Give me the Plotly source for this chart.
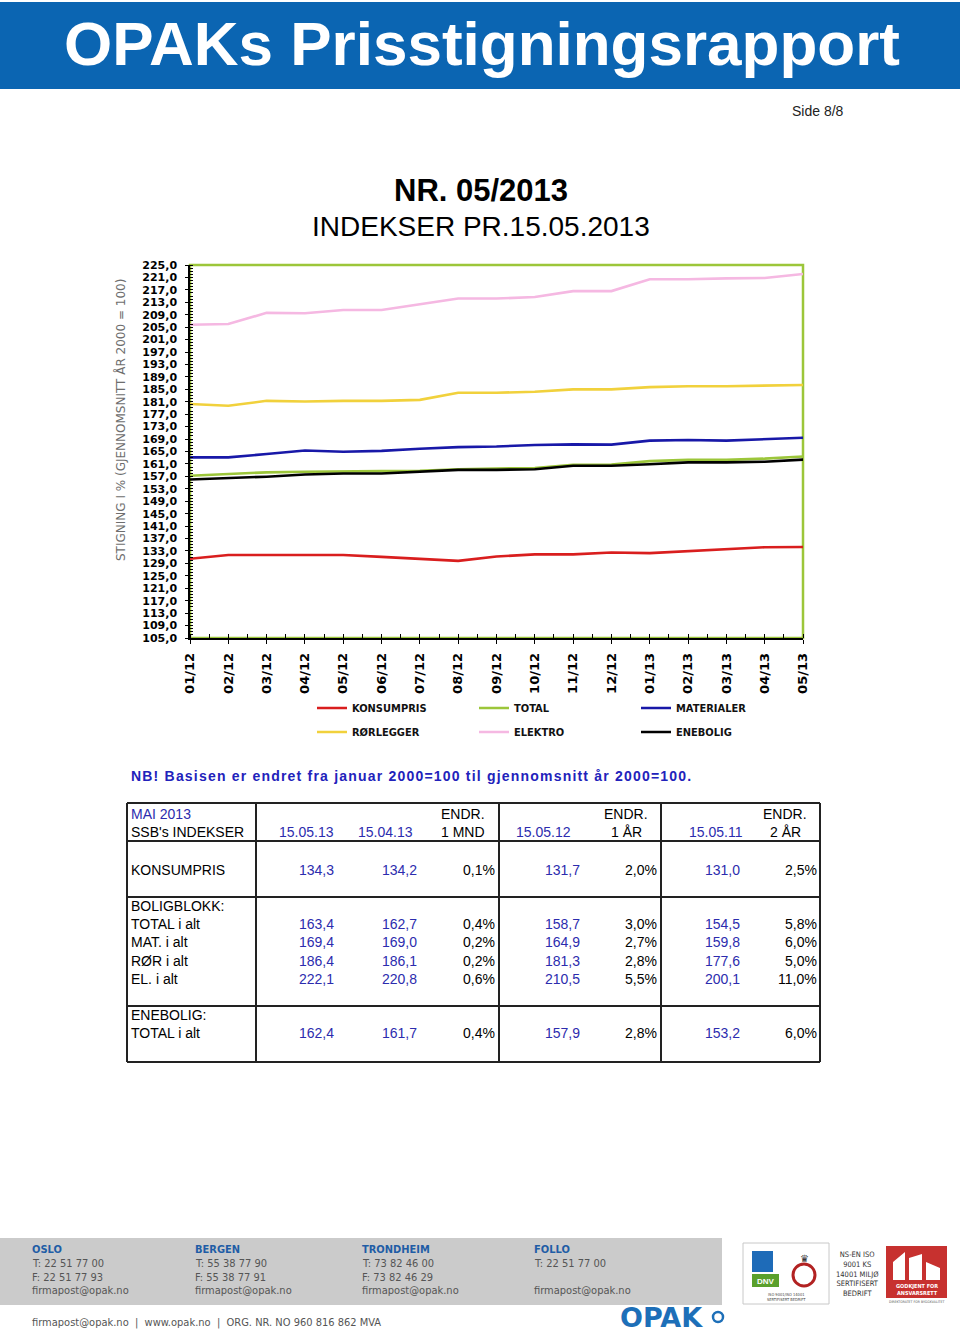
import plotly.graph_objects as go

W, H = 960, 1333

# ---------------- data ----------------
months = ["01/12", "02/12", "03/12", "04/12", "05/12", "06/12", "07/12", "08/12", "09/12",
          "10/12", "11/12", "12/12", "01/13", "02/13", "03/13", "04/13", "05/13"]
konsumpris = [130.5, 131.7, 131.7, 131.7, 131.7, 131.1, 130.5, 129.8, 131.2, 131.9, 131.9,
              132.5, 132.3, 133.0, 133.7, 134.2, 134.3]
total = [157.2, 157.8, 158.3, 158.5, 158.7, 158.7, 158.8, 159.3, 159.5, 159.7, 160.7,
         160.8, 161.9, 162.3, 162.3, 162.7, 163.4]
materialer = [163.1, 163.1, 164.2, 165.3, 164.9, 165.2, 165.9, 166.4, 166.6, 167.1, 167.3,
              167.2, 168.5, 168.7, 168.5, 169.0, 169.4]
rorlegger = [180.3, 179.7, 181.3, 181.1, 181.3, 181.3, 181.6, 183.9, 183.9, 184.2, 185.0,
             185.0, 185.7, 186.0, 186.0, 186.1, 186.4]
elektro = [205.8, 206.0, 209.6, 209.5, 210.5, 210.5, 212.4, 214.2, 214.2, 214.7, 216.6,
           216.6, 220.4, 220.4, 220.7, 220.8, 222.1]
enebolig = [156.0, 156.4, 156.9, 157.6, 157.9, 157.9, 158.5, 159.1, 159.1, 159.3, 160.4,
            160.4, 160.9, 161.5, 161.5, 161.7, 162.4]

series_names = ["KONSUMPRIS", "TOTAL", "MATERIALER", "RØRLEGGER", "ELEKTRO", "ENEBOLIG"]
series_values = [konsumpris, total, materialer, rorlegger, elektro, enebolig]
series_colors = ["#d91e1e", "#9cc63a", "#1818a8", "#f1d13c", "#f5b8e2", "#000000"]

# table data
tbl_row_labels = ["KONSUMPRIS", "TOTAL i alt", "MAT. i alt", "RØR i alt", "EL. i alt", "TOTAL i alt"]
val_150513 = [134.3, 163.4, 169.4, 186.4, 222.1, 162.4]
val_150413 = [134.2, 162.7, 169.0, 186.1, 220.8, 161.7]
chg_1mnd = [0.1, 0.4, 0.2, 0.2, 0.6, 0.4]
val_150512 = [131.7, 158.7, 164.9, 181.3, 210.5, 157.9]
chg_1ar = [2.0, 3.0, 2.7, 2.8, 5.5, 2.8]
val_150511 = [131.0, 154.5, 159.8, 177.6, 200.1, 153.2]
chg_2ar = [2.5, 5.8, 6.0, 5.0, 11.0, 6.0]
hdr_dates = ["15.05.13", "15.04.13", "15.05.12", "15.05.11"]
hdr_changes = ["1 MND", "1 ÅR", "2 ÅR"]

# footer data
offices = ["OSLO", "BERGEN", "TRONDHEIM", "FOLLO"]
office_phone = ["T: 22 51 77 00", "T: 55 38 77 90", "T: 73 82 46 00", "T: 22 51 77 00"]
office_fax = ["F: 22 51 77 93", "F: 55 38 77 91", "F: 73 82 46 29", ""]
office_mail = ["firmapost@opak.no"] * 4


# ---------------- helpers ----------------
def px(x):
    return x / W


def py(y):
    return 1 - y / H


def fmt(v, dec=1):
    return f"{v:.{dec}f}".replace(".", ",")


NARROW = "Liberation Sans Narrow, DejaVu Sans Condensed, Arial Narrow, sans-serif"
SANS = "Liberation Sans, Arial, sans-serif"
BLUE_TXT = "#2c2cae"

fig = go.Figure()

for k, (name, vals, col) in enumerate(zip(series_names, series_values, series_colors)):
    fig.add_trace(go.Scatter(
        x=list(range(len(months))), y=vals, name=name, mode="lines",
        line=dict(color=col, width=2.6),
        legend="legend" if k < 3 else "legend2",
    ))

annotations = []
shapes = []


def text(x, y, s, size=14, color="#000", bold=False, xanchor="left", family=SANS,
         yanchor="middle", angle=0):
    annotations.append(dict(
        x=px(x), y=py(y), xref="paper", yref="paper", text=s, showarrow=False,
        xanchor=xanchor, yanchor=yanchor, borderpad=0, textangle=angle,
        font=dict(family=family, size=size, color=color, weight="bold" if bold else "normal"),
    ))


def rect(x0, y0, x1, y1, fill=None, line=None, lw=0, layer="below"):
    shapes.append(dict(
        type="rect", xref="paper", yref="paper", x0=px(x0), x1=px(x1), y0=py(y1), y1=py(y0),
        fillcolor=fill if fill else "rgba(0,0,0,0)",
        line=dict(color=line if line else "rgba(0,0,0,0)", width=lw), layer=layer,
    ))


def hline(x0, x1, y, color="#222", lw=2):
    shapes.append(dict(type="line", xref="paper", yref="paper", x0=px(x0), x1=px(x1),
                       y0=py(y), y1=py(y), line=dict(color=color, width=lw)))


def vline(x, y0, y1, color="#222", lw=2):
    shapes.append(dict(type="line", xref="paper", yref="paper", x0=px(x), x1=px(x),
                       y0=py(y0), y1=py(y1), line=dict(color=color, width=lw)))


# ---------------- header ----------------
rect(0, 2, 960, 89, fill="#0b65b2")
text(482, 44, "OPAKs Prisstigningsrapport", size=62, color="#ffffff", bold=True, xanchor="center")
text(845, 111, "Side 8/8", size=14, color="#222", xanchor="right")
text(481, 209, "NR. 05/2013", size=31, color="#000", bold=True, xanchor="center", yanchor="bottom")
text(481, 210, "INDEKSER PR.15.05.2013", size=28, color="#000", xanchor="center", yanchor="top")

# y-axis title (placed like the reference, off-centre)
text(120, 420, "STIGNING I % (GJENNOMSNITT ÅR 2000 = 100)", size=12, color="#6e6e6e",
     xanchor="center", family="DejaVu Sans, sans-serif", angle=-90)

# plot frame (green)
rect(190, 265, 803, 638, line="#9cc63a", lw=2.5)

# ---------------- NB text + table ----------------
text(130, 776, "<span style='letter-spacing:1.2px'>NB! Basisen er endret fra januar "
     "2000=100 til gjennomsnitt år 2000=100.</span>",
     size=14, color="#2222bb", bold=True)

tx_left, tx_right = 127, 820
for yy in [803, 841, 897, 1006, 1062]:
    hline(tx_left, tx_right, yy)
for xx in [127, 256, 499, 661, 820]:
    vline(xx, 803, 1062)

text(130, 814, "MAI 2013", size=14, color=BLUE_TXT)
text(130, 832, "SSB's INDEKSER", size=14)
for d, xr in zip(hdr_dates, [335, 414, 572, 744]):
    text(xr, 832, d, size=14, color=BLUE_TXT, xanchor="right")
for c, xc in zip(hdr_changes, [463, 626, 785]):
    text(xc, 814, "ENDR.", size=14, xanchor="center")
    text(xc, 832, c, size=14, xanchor="center")

row_y = [870, 924, 942, 961, 979, 1033]
text(130, 906, "BOLIGBLOKK:", size=14)
text(130, 1015, "ENEBOLIG:", size=14)
col_right = [335, 418, 496, 581, 658, 741, 818]
for i, yy in enumerate(row_y):
    text(130, yy, tbl_row_labels[i], size=14)
    cells = [(fmt(val_150513[i]), BLUE_TXT), (fmt(val_150413[i]), BLUE_TXT),
             (fmt(chg_1mnd[i]) + "%", "#000"), (fmt(val_150512[i]), BLUE_TXT),
             (fmt(chg_1ar[i]) + "%", "#000"), (fmt(val_150511[i]), BLUE_TXT),
             (fmt(chg_2ar[i]) + "%", "#000")]
    for (s, col), xr in zip(cells, col_right):
        text(xr, yy, s, size=14, color=col, xanchor="right")

# ---------------- footer ----------------
rect(0, 1238, 722, 1305, fill="#cbcbcb")
for i, xo in enumerate([31, 194, 361, 533]):
    text(xo, 1249, offices[i], size=11, color="#1f5da6", bold=True, family=NARROW)
    text(xo, 1263, office_phone[i], size=11, color="#555", family=NARROW)
    if office_fax[i]:
        text(xo, 1277, office_fax[i], size=11, color="#555", family=NARROW)
    text(xo, 1290, office_mail[i], size=11, color="#555", family=NARROW)
text(31, 1322, "firmapost@opak.no  |  www.opak.no  |  ORG. NR. NO 960 816 862 MVA",
     size=11, color="#555", family=NARROW)
text(619, 1334, "OPAK", size=27, color="#1d6fb8", bold=True, family="DejaVu Sans, sans-serif",
     yanchor="bottom")
shapes.append(dict(type="circle", xref="paper", yref="paper", x0=px(713), x1=px(723),
                   y0=py(1322), y1=py(1312), line=dict(color="#1d6fb8", width=2.5)))

# certification logos
rect(743, 1243, 829, 1304, fill="#ffffff", line="#c8c8c8", lw=1)
rect(752, 1251, 773, 1272, fill="#1e6bb8")
rect(752, 1274, 779, 1287, fill="#5aa02c")
text(765.5, 1281, "DNV", size=8, color="#ffffff", bold=True, xanchor="center")
shapes.append(dict(type="circle", xref="paper", yref="paper", x0=px(793), x1=px(815),
                   y0=py(1286), y1=py(1264), line=dict(color="#b22222", width=3)))
text(804, 1258, "♛", size=10, color="#333", xanchor="center", family="DejaVu Sans")
text(786, 1297, "ISO 9001/ISO 14001<br>SERTIFISERT BEDRIFT", size=4, color="#444",
     xanchor="center", family=NARROW)
text(857, 1274, "NS-EN ISO<br>9001 KS<br>14001 MILJØ<br>SERTIFISERT<br>BEDRIFT", size=7.5,
     color="#333", xanchor="center", family=NARROW)
rect(886, 1246, 947, 1298, fill="#c7312f")
shapes.append(dict(type="path", xref="paper", yref="paper",
                   path=(f"M {px(893)},{py(1280)} L {px(893)},{py(1262)} L {px(905)},{py(1252)} "
                         f"L {px(905)},{py(1280)} Z M {px(909)},{py(1280)} L {px(909)},{py(1258)} "
                         f"L {px(922)},{py(1254)} L {px(922)},{py(1280)} Z M {px(926)},{py(1280)} "
                         f"L {px(926)},{py(1262)} L {px(940)},{py(1268)} L {px(940)},{py(1280)} Z"),
                   fillcolor="#ffffff", line=dict(width=0)))
text(916.5, 1289, "GODKJENT FOR<br>ANSVARSRETT", size=5.5, color="#ffffff", bold=True,
     xanchor="center", family=NARROW)
text(916.5, 1302, "DIREKTORATET FOR BYGGKVALITET", size=3.5, color="#555", xanchor="center",
     family=NARROW)

# ---------------- layout ----------------
legend_common = dict(
    orientation="h", xanchor="left", yanchor="middle", entrywidth=117, entrywidthmode="pixels",
    font=dict(family=NARROW, size=11, color="#111", weight="bold"),
    bgcolor="rgba(0,0,0,0)", borderwidth=0, itemwidth=30, tracegroupgap=0,
)

fig.update_layout(
    width=W, height=H,
    margin=dict(l=0, r=0, t=0, b=0, autoexpand=False),
    paper_bgcolor="#ffffff", plot_bgcolor="#ffffff",
    separators=",.",
    showlegend=True,
    legend=dict(x=px(312), y=py(708), **legend_common),
    legend2=dict(x=px(312), y=py(732), **legend_common),
    xaxis=dict(
        domain=[px(190), px(803)], range=[0, len(months) - 1],
        tickmode="array", tickvals=list(range(len(months))), ticktext=months,
        tickangle=-90, showgrid=False, zeroline=False, automargin=False,
        showline=True, linecolor="#000", linewidth=1.5,
        ticks="outside", ticklen=4, tickcolor="#000",
        minor=dict(dtick=0.5, tick0=0, ticks="inside", ticklen=4, tickcolor="#000", showgrid=False),
        tickfont=dict(family="DejaVu Sans, sans-serif", size=13, color="#000", weight="bold"),
        ticklabelstandoff=4,
    ),
    yaxis=dict(
        domain=[py(638), py(265)], range=[105, 225],
        tickmode="linear", tick0=105, dtick=4, tickformat=".1f",
        showgrid=False, zeroline=False, automargin=False,
        showline=True, linecolor="#000", linewidth=1.5,
        ticks="outside", ticklen=3, tickcolor="#000",
        minor=dict(dtick=1, tick0=105, ticks="inside", ticklen=3, tickcolor="#000", showgrid=False),
        tickfont=dict(family="DejaVu Sans, sans-serif", size=11, color="#000", weight="bold"),
        ticklabelstandoff=6,
    ),
    annotations=annotations,
    shapes=shapes,
)

fig.write_html("out.html", config={"displayModeBar": False},
               post_script="document.body.style.margin='0';document.body.style.overflow='hidden';")
